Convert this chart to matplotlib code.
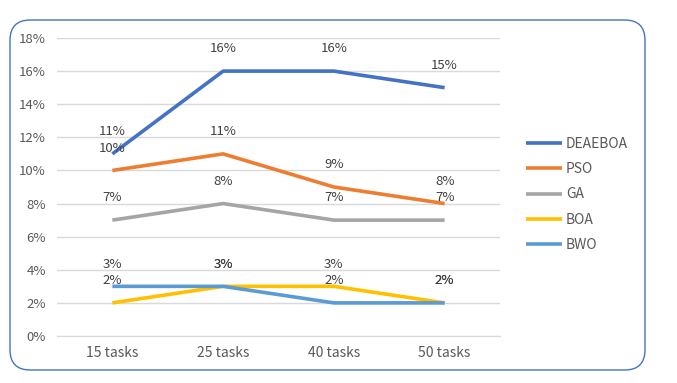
import matplotlib.pyplot as plt
from matplotlib.patches import FancyBboxPatch
from matplotlib.ticker import PercentFormatter

categories = ["15 tasks", "25 tasks", "40 tasks", "50 tasks"]
series_names = ["DEAEBOA", "PSO", "GA", "BOA", "BWO"]
deaeboa = [11, 16, 16, 15]
pso = [10, 11, 9, 8]
ga = [7, 8, 7, 7]
boa = [2, 3, 3, 2]
bwo = [3, 3, 2, 2]
colors = ["#4472C4", "#ED7D31", "#A5A5A5", "#FFC000", "#5B9BD5"]

plt.rcParams['font.family'] = ['Noto Sans CJK SC', 'DejaVu Sans']

fig = plt.figure(figsize=(6.77, 3.83), dpi=100)
frame = FancyBboxPatch((10 / 677, 1 - 370 / 383), 635 / 677, 350 / 383,
                       boxstyle="round,pad=0,rounding_size=0.03",
                       transform=fig.transFigure, facecolor="none",
                       edgecolor="#4472C4", linewidth=1.0, mutation_aspect=677 / 383)
fig.patches.append(frame)

ax = fig.add_axes([57 / 677, 1 - 336 / 383, 443 / 677, 298 / 383])
ax.set_facecolor("none")
x = range(len(categories))
for name, vals, c in zip(series_names, [deaeboa, pso, ga, boa, bwo], colors):
    ax.plot(x, vals, color=c, linewidth=2.6, label=name, solid_capstyle="butt")
    for xi, v in zip(x, vals):
        ax.annotate("{}%".format(v), (xi, v), xytext=(0, 16), textcoords="offset points",
                    ha="center", va="center", fontsize=9.5, color="#404040")

ax.set_xlim(-0.5, 3.5)
ax.set_ylim(0, 18)
ax.set_yticks(range(0, 19, 2))
ax.yaxis.set_major_formatter(PercentFormatter(decimals=0))
ax.set_xticks(list(x))
ax.set_xticklabels(categories)
ax.grid(axis="y", color="#D9D9D9", linewidth=1)
ax.set_axisbelow(True)
for s in ["top", "right", "left"]:
    ax.spines[s].set_visible(False)
ax.spines["bottom"].set_color("#D9D9D9")
ax.tick_params(axis="y", length=0, labelsize=9.5, labelcolor="#595959", pad=8)
ax.tick_params(axis="x", length=0, labelsize=10, labelcolor="#595959", pad=7)

leg = ax.legend(loc="center left", bbox_to_anchor=(1.03, 0.475), frameon=False,
                fontsize=10, labelcolor="#595959", handlelength=2.6,
                handletextpad=0.3, labelspacing=0.8)

fig.savefig("out.png", dpi=100)
